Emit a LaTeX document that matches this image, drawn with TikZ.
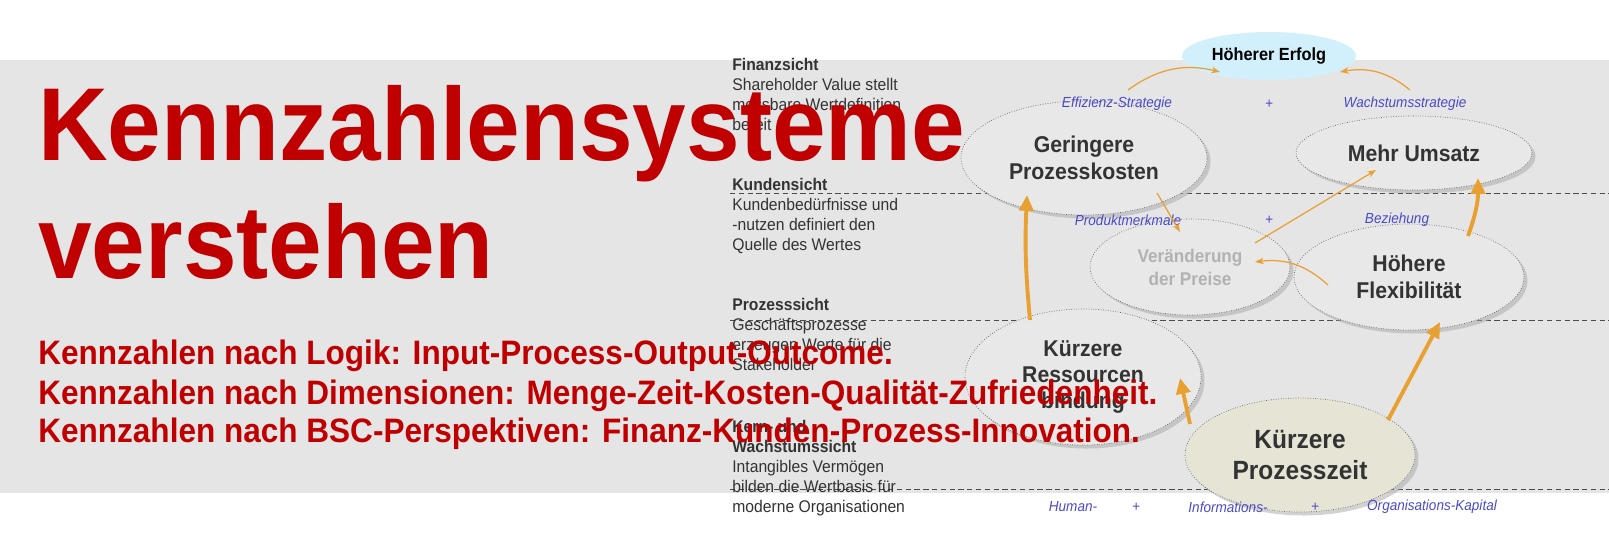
\documentclass[tikz,border=0pt]{standalone}
\usepackage{fontspec}
\setmainfont{Liberation Sans}
\newfontfamily\narrowf[FakeStretch=0.93]{Liberation Sans}
\usetikzlibrary{shadows,arrows.meta,shapes.geometric}
\definecolor{bsred}{HTML}{C00000}
\definecolor{bslue}{HTML}{4A4AC8}
\definecolor{org}{HTML}{E8A030}
\begin{document}
\begin{tikzpicture}[x=0.02cm,y=-0.02cm,
  ell/.style={ellipse,draw=gray!80!black,densely dotted,fill=gray!18,drop shadow={shadow xshift=2pt,shadow yshift=-2pt,fill=gray!70},font=\narrowf\bfseries\fontsize{13}{15}\selectfont,text=black!80,align=center,inner sep=0pt},
  lab/.style={font=\narrowf\itshape\fontsize{8.3}{10}\selectfont,text=bslue},
  side/.style={anchor=north west,align=left,font=\narrowf\fontsize{9.6}{11.3}\selectfont,text=black!80,inner sep=0pt},
  thick arr/.style={draw=org,line width=2.2pt,-{Triangle[length=9pt,width=8pt]}},
  thin arr/.style={draw=org,line width=0.7pt,-{Stealth[length=5pt]}},
  dl/.style={densely dashed,draw=black!70,line width=0.5pt},
  ttl/.style={anchor=base west,inner sep=0pt,text=bsred,font=\narrowf\bfseries\fontsize{59}{60}\selectfont},
  sub/.style={anchor=base west,inner sep=0pt,text=bsred,font=\narrowf\bfseries\fontsize{19.3}{22}\selectfont}]
\useasboundingbox (0,0) rectangle (1609,556);
\fill[gray!20] (0,60) rectangle (1609,493);
\draw[dl] (730,193) coordinate(d1a) -- (1609,193) coordinate(d1b);
\draw[dl] (730,320) coordinate(d2a) -- (1609,320) coordinate(d2b);
\draw[dl] (730,489) coordinate(d3a) -- (1609,489) coordinate(d3b);
% side texts
\node[side] (fs) at (732,58) {\textbf{Finanzsicht}\\Shareholder Value stellt\\messbare Wertdefinition\\bereit};
\node[side] (ks) at (732,178) {\textbf{Kundensicht}\\Kundenbedürfnisse und\\-nutzen definiert den\\Quelle des Wertes};
\node[side] (ps) at (732,298) {\textbf{Prozesssicht}\\Geschäftsprozesse\\erzeugen Werte für die\\Stakeholder};
\node[side] (ws) at (732,420) {\textbf{Kern- und}\\\textbf{Wachstumssicht}\\Intangibles Vermögen\\bilden die Wertbasis für\\moderne Organisationen};
% ellipses
\node[ellipse,fill=cyan!18,inner sep=0pt,minimum width=3.48cm,minimum height=0.96cm,font=\narrowf\bfseries\fontsize{10}{12}\selectfont,text=black] (he) at (1269,56) {Höherer Erfolg};
\node[ell,minimum width=4.92cm,minimum height=2.28cm] (gp) at (1084,158) {Geringere\\Prozesskosten};
\node[ell,minimum width=4.72cm,minimum height=1.48cm] (mu) at (1414,153) {Mehr Umsatz};
\node[ell,minimum width=4.0cm,minimum height=1.92cm,text=gray!60,font=\narrowf\bfseries\fontsize{10.5}{13}\selectfont] (vp) at (1190,267) {Veränderung\\der Preise};
\node[ell,minimum width=4.6cm,minimum height=2.12cm] (hf) at (1409,277) {Höhere\\Flexibilität};
\node[ell,minimum width=4.72cm,minimum height=2.72cm] (kr) at (1083,377) {Kürzere\\Ressourcen\\bindung};
\node[ell,minimum width=4.6cm,minimum height=2.28cm,fill=yellow!25!gray!30,font=\narrowf\bfseries\fontsize{15}{18}\selectfont] (kp) at (1300,455) {Kürzere\\Prozesszeit};
% labels
\node[lab] (l1) at (1117,104) {Effizienz-Strategie};
\node[lab] (l2) at (1269,104) {+};
\node[lab] (l3) at (1405,104) {Wachstumsstrategie};
\node[lab] (l4) at (1128,220) {Produktmerkmale};
\node[lab] (l5) at (1269,220) {+};
\node[lab] (l6) at (1397,220) {Beziehung};
\node[lab] (l7) at (1073,507) {Human-};
\node[lab] (l8) at (1136,507) {+};
\node[lab] (l9) at (1228,507) {Informations-};
\node[lab] (l10) at (1315,507) {+};
\node[lab] (l11) at (1432,507) {Organisations-Kapital};
% arrows
\draw[thin arr] (1128,90) coordinate(b1) to[bend left=25] (1220,72);
\draw[thin arr] (1410,90) coordinate(b2) to[bend right=25] (1340,72);
\draw[thick arr] (1030,320) coordinate(a1) to[bend left=4] (1027,195);
\draw[thick arr] (1190,424) coordinate(a2) -- (1180,378);
\draw[thick arr] (1388,420) coordinate(a3) -- (1440,322);
\draw[thick arr] (1468,236) coordinate(a4) to[bend right=10] (1478,178);
\draw[thin arr] (1157,193) coordinate(a5) -- (1180,232);
\draw[thin arr] (1255,243) coordinate(a6) -- (1376,170);
\draw[thin arr] (1328,285) coordinate(a7) to[bend right=25] (1255,262);
% title
\node[ttl] (t1) at (38,160) {Kennzahlensysteme};
\node[ttl] (t2) at (38,278) {verstehen};
\node[sub] (s1) at (38,364) {Kennzahlen nach Logik: Input-Process-Output-Outcome.};
\node[sub] (s2) at (38,404) {Kennzahlen nach Dimensionen: Menge-Zeit-Kosten-Qualität-Zufriedenheit.};
\node[sub] (s3) at (38,442) {Kennzahlen nach BSC-Perspektiven: Finanz-Kunden-Prozess-Innovation.};
\end{tikzpicture}
\end{document}
